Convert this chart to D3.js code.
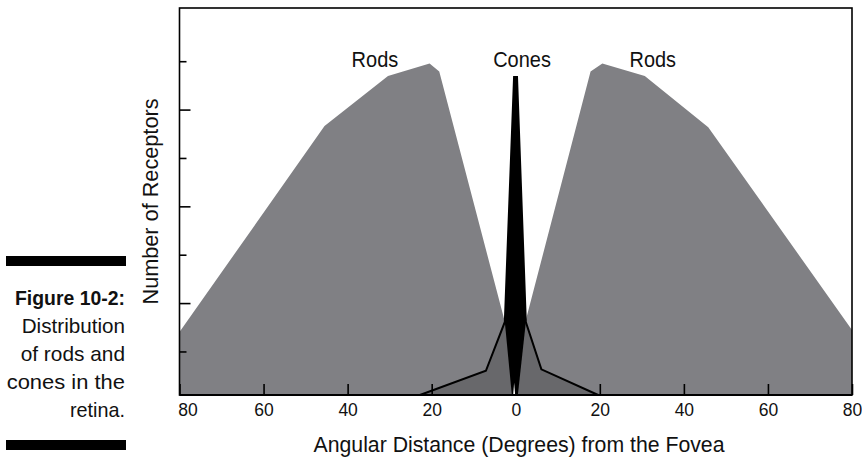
<!DOCTYPE html>
<html>
<head>
<meta charset="utf-8">
<script src="https://cdn.jsdelivr.net/npm/d3@7"></script>
<style>
  html, body { margin: 0; padding: 0; background: #fff; }
  svg { display: block; }
  text { font-family: "Liberation Sans", Arial, sans-serif; fill: #111; }
</style>
</head>
<body>
<svg id="chart" width="862" height="457"></svg>
<script>
// Rod density across the retina (degrees from the fovea, relative count)
const rodDeg   = [-80, -45.5, -30.4, -20.5, -18.2, -1.8, -0.7, 0, 1.5, 17.8, 20.6, 30.7, 45.8, 80];
const rodCount = [26, 111.2, 131.9, 137.1, 133.7, 25, 0, 0, 25, 133.7, 137.1, 131.9, 110.7, 26.9];

// Cone density, concentrated in the fovea
const coneDeg   = [-22.8, -7.1, -2.6, -0.4, 0.3, 2.4, 6.1, 19.6];
const coneCount = [0, 10.0, 30.2, 131.5, 131.5, 30.2, 10.6, 0];

// Solid foveal peak of the cone curve
const peakDeg   = [-2.6, -0.4, 0.3, 2.4, 0.5, -0.93];
const peakCount = [30.2, 131.5, 131.5, 30.2, 0, 0];

// Narrow gap at the very centre of the fovea
const gapDeg   = [-0.62, -0.38, -0.14];
const gapCount = [0, 5.1, 0];

// Axis ticks
const xTicks      = [-80, -60, -40, -20, 0, 20, 40, 60, 80];
const xTickLabels = ["80", "60", "40", "20", "0", "20", "40", "60", "80"];
const yTicks      = [18, 38, 58, 78, 98, 118, 138];
const yTickMajor  = [false, true, false, true, false, true, false];

// Curve labels
const labelText  = ["Rods", "Cones", "Rods"];
const labelDeg   = [-33.5, 1.5, 32.6];
const labelCount = [135.6, 135.6, 135.6];
const labelWidth = [46.7, 57.7, 46.5];

// Figure caption
const captionLines = ["Figure 10-2:", "Distribution", "of rods and", "cones in the", "retina."];
const captionWidth = [110, 103.3, 104.3, 118.3, 55];

const svg = d3.select("#chart");
const plotLeft = 179.5, plotRight = 852, plotTop = 8, plotBottom = 395;

const x = d3.scaleLinear().domain([-80, 80]).range([plotLeft, plotRight]);
const y = d3.scaleLinear().domain([0, 160]).range([plotBottom, plotTop]);

const pts = (xs, ys) => xs.map((d, i) => [d, ys[i]]);

const area = d3.area().x(d => x(d[0])).y0(y(0)).y1(d => y(d[1]));
const line = d3.line().x(d => x(d[0])).y(d => y(d[1]));

const plot = svg.append("g");

// Rods
plot.append("path")
  .attr("d", area(pts(rodDeg, rodCount)))
  .attr("fill", "#808084");

// Cones
plot.append("path")
  .attr("d", area(pts(coneDeg, coneCount)))
  .attr("fill", "#68686b");
plot.append("path")
  .attr("d", line(pts(coneDeg, coneCount)))
  .attr("fill", "none")
  .attr("stroke", "#000")
  .attr("stroke-width", 2)
  .attr("stroke-linejoin", "miter");

// Foveal peak
plot.append("path")
  .attr("d", line(pts(peakDeg, peakCount)) + "Z")
  .attr("fill", "#000");
plot.append("path")
  .attr("d", line(pts(gapDeg, gapCount)) + "Z")
  .attr("fill", "#fff");

// Bottom axis with inward ticks
const xAxis = svg.append("g")
  .attr("transform", `translate(0,${plotBottom})`)
  .call(d3.axisBottom(x).tickValues(xTicks).tickSize(-11).tickPadding(9)
        .tickFormat((d, i) => xTickLabels[i]));
xAxis.select(".domain").remove();
xAxis.selectAll("line").attr("stroke", "#000").attr("stroke-width", 1.6);
xAxis.selectAll("text")
  .attr("font-size", 17.5)
  .attr("fill", "#111")
  .style("font-family", '"Liberation Sans", Arial, sans-serif')
  .filter((d, i) => i === 0).attr("dx", 8);

// Left axis with alternating inward ticks
const yAxis = svg.append("g")
  .attr("transform", `translate(${plotLeft},0)`)
  .call(d3.axisLeft(y).tickValues(yTicks).tickFormat(""));
yAxis.select(".domain").remove();
yAxis.selectAll("line")
  .attr("x2", (d, i) => yTickMajor[i] ? 11 : 7)
  .attr("stroke", "#000")
  .attr("stroke-width", 1.6);

// Plot frame
svg.append("rect")
  .attr("x", plotLeft).attr("y", plotTop)
  .attr("width", plotRight - plotLeft).attr("height", plotBottom - plotTop)
  .attr("fill", "none").attr("stroke", "#000").attr("stroke-width", 1.6);
svg.append("line")
  .attr("x1", plotLeft).attr("x2", plotRight).attr("y1", plotBottom).attr("y2", plotBottom)
  .attr("stroke", "#000").attr("stroke-width", 2.2);

// Curve labels (condensed lettering)
svg.selectAll(".curve-label")
  .data(labelText)
  .join("text")
  .attr("class", "curve-label")
  .attr("x", (d, i) => x(labelDeg[i]))
  .attr("y", (d, i) => y(labelCount[i]))
  .attr("text-anchor", "middle")
  .attr("font-size", 21.5)
  .attr("textLength", (d, i) => labelWidth[i])
  .attr("lengthAdjust", "spacingAndGlyphs")
  .text(d => d);

// Axis titles
svg.append("text")
  .attr("x", 519).attr("y", 451.5)
  .attr("text-anchor", "middle")
  .attr("font-size", 22)
  .attr("textLength", 411)
  .attr("lengthAdjust", "spacingAndGlyphs")
  .text("Angular Distance (Degrees) from the Fovea");

svg.append("text")
  .attr("transform", `translate(158,${(plotTop + plotBottom) / 2}) rotate(-90)`)
  .attr("text-anchor", "middle")
  .attr("font-size", 22)
  .attr("textLength", 206)
  .attr("lengthAdjust", "spacingAndGlyphs")
  .text("Number of Receptors");

// Caption block with rules above and below
svg.append("rect").attr("x", 6).attr("y", 256).attr("width", 120).attr("height", 10).attr("fill", "#000");
svg.append("rect").attr("x", 6).attr("y", 440).attr("width", 120).attr("height", 10).attr("fill", "#000");

svg.selectAll(".caption")
  .data(captionLines)
  .join("text")
  .attr("class", "caption")
  .attr("x", 125)
  .attr("y", (d, i) => 305 + i * 28)
  .attr("text-anchor", "end")
  .attr("font-size", 21)
  .attr("font-weight", (d, i) => i === 0 ? "bold" : "normal")
  .attr("textLength", (d, i) => captionWidth[i])
  .attr("lengthAdjust", "spacingAndGlyphs")
  .text(d => d);
</script>
</body>
</html>
